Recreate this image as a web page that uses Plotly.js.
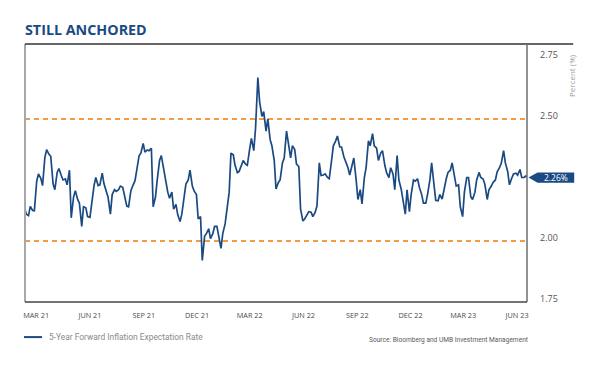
<!DOCTYPE html>
<html>
<head>
<meta charset="utf-8">
<script src="https://cdn.plot.ly/plotly-3.0.1.min.js"></script>
<style>
  html, body { margin: 0; padding: 0; background: #fff; }
  #chart { width: 600px; height: 367px; }
</style>
</head>
<body>
<div id="chart"></div>
<script>
// ---- data ----
const dates = [
  '2021-02-23','2021-02-26','2021-03-02','2021-03-05','2021-03-09','2021-03-12','2021-03-16','2021-03-19','2021-03-23','2021-03-26',
  '2021-03-30','2021-04-02','2021-04-06','2021-04-09','2021-04-13','2021-04-16','2021-04-20','2021-04-23','2021-04-27','2021-04-30',
  '2021-05-04','2021-05-07','2021-05-11','2021-05-14','2021-05-18','2021-05-21','2021-05-25','2021-05-28','2021-06-01','2021-06-04',
  '2021-06-08','2021-06-11','2021-06-15','2021-06-18','2021-06-22','2021-06-25','2021-06-29','2021-07-02','2021-07-06','2021-07-09',
  '2021-07-13','2021-07-16','2021-07-20','2021-07-23','2021-07-27','2021-07-30','2021-08-03','2021-08-06','2021-08-10','2021-08-13',
  '2021-08-17','2021-08-20','2021-08-24','2021-08-27','2021-08-31','2021-09-03','2021-09-07','2021-09-10','2021-09-14','2021-09-17',
  '2021-09-21','2021-09-24','2021-09-28','2021-10-01','2021-10-05','2021-10-08','2021-10-12','2021-10-15','2021-10-19','2021-10-22',
  '2021-10-26','2021-10-29','2021-11-02','2021-11-05','2021-11-09','2021-11-12','2021-11-16','2021-11-19','2021-11-23','2021-11-26',
  '2021-11-30','2021-12-03','2021-12-07','2021-12-10','2021-12-14','2021-12-17','2021-12-21','2021-12-24','2021-12-28','2021-12-31',
  '2022-01-04','2022-01-07','2022-01-11','2022-01-14','2022-01-18','2022-01-21','2022-01-25','2022-01-28','2022-02-01','2022-02-04',
  '2022-02-08','2022-02-11','2022-02-15','2022-02-18','2022-02-22','2022-02-25','2022-03-01','2022-03-04','2022-03-08','2022-03-11',
  '2022-03-15','2022-03-18','2022-03-22','2022-03-25','2022-03-29','2022-04-01','2022-04-05','2022-04-08','2022-04-12','2022-04-15',
  '2022-04-19','2022-04-22','2022-04-26','2022-04-29','2022-05-03','2022-05-06','2022-05-10','2022-05-13','2022-05-17','2022-05-20',
  '2022-05-24','2022-05-27','2022-05-31','2022-06-03','2022-06-07','2022-06-10','2022-06-14','2022-06-17','2022-06-21','2022-06-24',
  '2022-06-28','2022-07-01','2022-07-05','2022-07-08','2022-07-12','2022-07-15','2022-07-19','2022-07-22','2022-07-26','2022-07-29',
  '2022-08-02','2022-08-05','2022-08-09','2022-08-12','2022-08-16','2022-08-19','2022-08-23','2022-08-26','2022-08-30','2022-09-02',
  '2022-09-06','2022-09-09','2022-09-13','2022-09-16','2022-09-20','2022-09-23','2022-09-27','2022-09-30','2022-10-04','2022-10-07',
  '2022-10-11','2022-10-14','2022-10-18','2022-10-21','2022-10-25','2022-10-28','2022-11-01','2022-11-04','2022-11-08','2022-11-11',
  '2022-11-15','2022-11-18','2022-11-22','2022-11-25','2022-11-29','2022-12-02','2022-12-06','2022-12-09','2022-12-13','2022-12-16',
  '2022-12-20','2022-12-23','2022-12-27','2022-12-30','2023-01-03','2023-01-06','2023-01-10','2023-01-13','2023-01-17','2023-01-20',
  '2023-01-24','2023-01-27','2023-01-31','2023-02-03','2023-02-07','2023-02-10','2023-02-14','2023-02-17','2023-02-21','2023-02-24',
  '2023-02-28','2023-03-03','2023-03-07','2023-03-10','2023-03-14','2023-03-17','2023-03-21','2023-03-24','2023-03-28','2023-03-31',
  '2023-04-04','2023-04-07','2023-04-11','2023-04-14','2023-04-18','2023-04-21','2023-04-25','2023-04-28','2023-05-02','2023-05-05',
  '2023-05-09','2023-05-12','2023-05-16','2023-05-19','2023-05-23','2023-05-26','2023-05-30','2023-06-02','2023-06-06','2023-06-09',
  '2023-06-13','2023-06-16','2023-06-20','2023-06-23','2023-06-27','2023-06-30','2023-07-04'
];

const forwardRate = [
  2.142,2.111,2.104,2.142,2.125,2.124,2.245,2.275,2.257,2.227,
  2.343,2.374,2.355,2.347,2.234,2.210,2.281,2.297,2.268,2.250,
  2.254,2.230,2.290,2.095,2.180,2.206,2.170,2.155,2.060,2.140,
  2.136,2.100,2.097,2.160,2.227,2.260,2.227,2.230,2.278,2.234,
  2.196,2.179,2.110,2.190,2.210,2.203,2.210,2.225,2.220,2.180,
  2.143,2.140,2.206,2.225,2.247,2.290,2.349,2.360,2.400,2.364,
  2.373,2.370,2.380,2.140,2.180,2.250,2.330,2.350,2.290,2.250,
  2.200,2.175,2.200,2.130,2.150,2.108,2.080,2.110,2.180,2.233,
  2.250,2.290,2.225,2.205,2.190,2.090,2.100,1.920,2.020,2.030,
  2.050,2.010,2.030,2.060,2.060,2.025,1.970,2.030,2.070,2.125,
  2.200,2.360,2.353,2.310,2.280,2.285,2.310,2.330,2.315,2.310,
  2.377,2.420,2.370,2.460,2.670,2.570,2.510,2.530,2.450,2.500,
  2.415,2.390,2.330,2.213,2.240,2.250,2.320,2.340,2.450,2.400,
  2.340,2.390,2.375,2.315,2.305,2.130,2.082,2.090,2.111,2.120,
  2.118,2.100,2.118,2.143,2.320,2.268,2.270,2.275,2.260,2.255,
  2.330,2.390,2.410,2.430,2.385,2.385,2.345,2.325,2.300,2.270,
  2.316,2.340,2.250,2.170,2.210,2.152,2.260,2.300,2.410,2.390,
  2.440,2.390,2.380,2.330,2.360,2.370,2.310,2.280,2.260,2.300,
  2.275,2.210,2.350,2.250,2.212,2.170,2.110,2.210,2.120,2.190,
  2.250,2.245,2.255,2.220,2.190,2.155,2.155,2.190,2.250,2.320,
  2.220,2.167,2.165,2.190,2.172,2.215,2.255,2.281,2.290,2.320,
  2.255,2.225,2.230,2.140,2.100,2.200,2.260,2.260,2.180,2.170,
  2.200,2.250,2.281,2.260,2.254,2.232,2.170,2.210,2.225,2.240,
  2.250,2.283,2.300,2.318,2.370,2.320,2.285,2.230,2.258,2.275,
  2.278,2.270,2.293,2.260,2.260,2.266,2.262
];

const tickDates  = ['2021-03-15','2021-06-15','2021-09-15','2021-12-15','2022-03-15','2022-06-15','2022-09-15','2022-12-15','2023-03-15','2023-06-15'];
const tickLabels = ['MAR 21','JUN 21','SEP 21','DEC 21','MAR 22','JUN 22','SEP 22','DEC 22','MAR 23','JUN 23'];
const yTickValues = [1.75, 2.00, 2.50, 2.75];
const yTickLabels = ['1.75', '2.00', '2.50', '2.75'];
const anchorLevels = [2.00, 2.50];
const latestValue = 2.26;
const latestLabel = '2.26%';
const seriesName = '5-Year Forward Inflation Expectation Rate';
const chartTitle = 'STILL ANCHORED';
const axisTitle = 'Percent (%)';
const sourceText = 'Source: Bloomberg and UMB Investment Management';

// ---- styling ----
const NAVY = '#1b4a82';
const ORANGE = '#f49b48';

const shapes = [];
anchorLevels.forEach(v => shapes.push({
  type: 'line', xref: 'paper', yref: 'y', x0: 0, x1: 1, y0: v, y1: v,
  line: { color: ORANGE, width: 2, dash: '5px,4px' }, layer: 'below'
}));
// frame
shapes.push({ type: 'line', xref: 'paper', yref: 'paper', x0: 0, x1: 0, y0: 0, y1: 1, line: { color: '#a8a8a8', width: 2 } });
shapes.push({ type: 'line', xref: 'paper', yref: 'paper', x0: 0, x1: 1.092, y0: 1, y1: 1, line: { color: '#333333', width: 1.5 } });
shapes.push({ type: 'line', xref: 'paper', yref: 'paper', x0: 1, x1: 1, y0: 0, y1: 1, line: { color: '#6e6e6e', width: 1.5 } });
shapes.push({ type: 'line', xref: 'paper', yref: 'paper', x0: 0, x1: 1, y0: 0, y1: 0, line: { color: '#444444', width: 1.5 } });
// latest value marker box with arrow
shapes.push({
  type: 'path', xref: 'paper', yref: 'y',
  path: `M 1.003 ${latestValue} L 1.021 ${latestValue + 0.021} L 1.094 ${latestValue + 0.021} L 1.094 ${latestValue - 0.021} L 1.021 ${latestValue - 0.021} Z`,
  fillcolor: NAVY, line: { width: 0 }
});
// legend swatch
shapes.push({ type: 'line', xref: 'paper', yref: 'paper', x0: -0.002, x1: 0.034, y0: -0.136, y1: -0.136, line: { color: NAVY, width: 2 } });

const annotations = [
  { xref: 'paper', yref: 'y', x: 1.058, y: latestValue, text: latestLabel, showarrow: false,
    xanchor: 'center', yanchor: 'middle', font: { family: 'Open Sans', size: 8.5, color: '#ffffff' } },
  { xref: 'paper', yref: 'paper', x: 1.0896, y: 0.88, text: axisTitle, showarrow: false, textangle: -90,
    xanchor: 'center', yanchor: 'middle', font: { family: 'Open Sans', size: 8, color: '#a0a0a0' } },
  { xref: 'paper', yref: 'paper', x: 0.044, y: -0.136, text: seriesName, showarrow: false,
    xanchor: 'left', yanchor: 'middle', font: { family: 'Liberation Sans Narrow, Roboto', size: 8.4, color: '#8a8a8a' } },
  { xref: 'paper', yref: 'paper', x: 1.006, y: -0.147, text: sourceText, showarrow: false,
    xanchor: 'right', yanchor: 'middle', font: { family: 'Liberation Sans Narrow, Roboto', size: 6.6, color: '#5a5a5a' } }
];

const trace = {
  type: 'scatter', mode: 'lines', x: dates, y: forwardRate, name: seriesName,
  line: { color: NAVY, width: 1.7, shape: 'linear' }, hoverinfo: 'x+y'
};

const layout = {
  width: 600, height: 367,
  margin: { l: 25, r: 73, t: 44, b: 65, pad: 0 },
  paper_bgcolor: '#ffffff', plot_bgcolor: '#ffffff',
  showlegend: false,
  title: { text: '<b>' + chartTitle + '</b>', x: 25 / 600, xanchor: 'left', xref: 'container',
           y: 1 - 30 / 367, yanchor: 'middle', yref: 'container',
           font: { family: 'Open Sans', size: 14.3, color: NAVY } },
  xaxis: {
    type: 'date', range: ['2021-02-24', '2023-07-02'],
    tickmode: 'array', tickvals: tickDates, ticktext: tickLabels,
    showgrid: false, zeroline: false, showline: false, ticks: '',
    ticklabelstandoff: 8,
    tickfont: { family: 'Open Sans', size: 7.3, color: '#4a4a4a' }
  },
  yaxis: {
    side: 'right', range: [1.75, 2.807],
    tickmode: 'array', tickvals: yTickValues, ticktext: yTickLabels,
    showgrid: false, zeroline: false, showline: false, ticks: '',
    ticklabelstandoff: 12, ticklabelshift: -3,
    tickfont: { family: 'Open Sans', size: 9, color: '#555555' }
  },
  shapes: shapes,
  annotations: annotations
};

Plotly.newPlot('chart', [trace], layout, { staticPlot: true, displayModeBar: false });
</script>
</body>
</html>
